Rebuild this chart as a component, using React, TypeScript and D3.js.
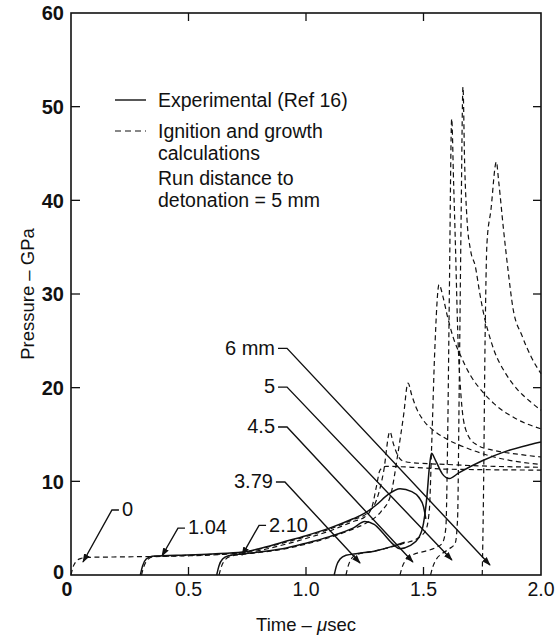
import React from "react";
import * as d3 from "d3";

const W = 556;
const H = 638;

// axes
const xTicks = [0, 0.5, 1.0, 1.5, 2.0];
const xTickLabels = ["0", "0.5", "1.0", "1.5", "2.0"];
const yTicks = [0, 10, 20, 30, 40, 50, 60];
const yTickLabels = ["0", "10", "20", "30", "40", "50", "60"];

// experimental (solid) records [time µs, pressure GPa]
const exp104: [number, number][] = [[0.295,0],[0.305,1.0],[0.32,1.7],[0.345,2.0],[0.45,2.1],[0.6,2.25],[0.73,2.45],[0.8,2.8],[0.9,3.5],[1.0,4.2],[1.1,5.0],[1.2,6.0],[1.25,6.6],[1.3,7.5],[1.35,8.6],[1.4,9.2],[1.45,8.9],[1.48,8.3],[1.5,7.3],[1.51,6.0]];
const exp210: [number, number][] = [[0.62,0],[0.63,1.0],[0.645,1.7],[0.67,2.05],[0.73,2.25],[0.8,2.45],[0.9,2.8],[1.0,3.4],[1.1,4.1],[1.2,5.0],[1.25,5.7],[1.29,5.4],[1.33,4.4],[1.37,3.3],[1.4,2.8],[1.44,3.1],[1.48,4.0],[1.5,5.5],[1.515,8.5],[1.525,11.5],[1.534,13.0],[1.55,12.3],[1.58,10.8],[1.61,10.3],[1.65,10.9],[1.75,12.2],[1.85,13.2],[1.95,13.9],[2.0,14.2]];
const exp379: [number, number][] = [[1.12,0],[1.13,1.0],[1.145,1.7],[1.17,2.1],[1.22,2.3],[1.3,2.6],[1.36,3.0],[1.42,3.5]];

// ignition and growth calculations (dashed)
const calc0: [number, number][] = [[0,0],[0.008,0.8],[0.02,1.4],[0.04,1.75],[0.07,1.88],[0.2,1.93],[0.35,1.98],[0.5,2.05],[0.65,2.2],[0.73,2.35],[0.8,2.6],[0.9,3.2],[1.0,3.9],[1.1,4.7],[1.2,5.7],[1.25,6.2],[1.28,7.2],[1.3,9.5],[1.315,11.2],[1.34,11.6],[1.45,11.5],[1.6,11.3],[2.0,11.2]];
const calc104: [number, number][] = [[0.3,0],[0.31,0.9],[0.325,1.6],[0.35,1.95],[0.45,2.05],[0.6,2.2],[0.73,2.4],[0.8,2.75],[0.9,3.4],[1.0,4.1],[1.1,4.9],[1.2,5.9],[1.26,6.6],[1.3,8],[1.33,11],[1.357,15.3],[1.372,14],[1.39,12.8],[1.41,12.2],[1.45,12.0],[1.6,11.8],[1.8,11.6],[2.0,11.5]];
const calc210: [number, number][] = [[0.63,0],[0.64,0.9],[0.655,1.6],[0.68,2.0],[0.73,2.2],[0.8,2.4],[0.9,2.75],[1.0,3.3],[1.1,4.0],[1.2,4.9],[1.26,5.6],[1.32,6.8],[1.36,8.5],[1.39,12.8],[1.415,17],[1.434,20.5],[1.45,19.2],[1.47,17.8],[1.5,16.5],[1.55,15.3],[1.6,14.5],[1.7,13.4],[1.8,12.6],[1.9,12.1],[2.0,11.8]];
const calc379: [number, number][] = [[1.17,0],[1.18,1.0],[1.195,1.8],[1.22,2.2],[1.28,2.5],[1.35,2.9],[1.42,3.4],[1.48,4.0],[1.51,4.8],[1.525,7],[1.535,14],[1.548,24],[1.566,31],[1.583,29.7],[1.6,27.8],[1.626,25.4],[1.66,23.3],[1.7,21.3],[1.75,19.6],[1.8,18.3],[1.9,16.6],[2.0,15.6]];
const calc45: [number, number][] = [[1.4,0],[1.41,0.9],[1.425,1.6],[1.45,2.1],[1.5,2.5],[1.55,2.9],[1.58,3.4],[1.595,5],[1.603,15],[1.61,30],[1.62,48.7],[1.628,42],[1.635,36],[1.647,25],[1.66,19],[1.68,15.5],[1.72,14.0],[1.8,13.3],[1.9,12.9],[2.0,12.6]];
const calc5: [number, number][] = [[1.53,0],[1.54,0.9],[1.555,1.7],[1.58,2.3],[1.61,2.8],[1.635,3.4],[1.645,6],[1.652,20],[1.66,38],[1.668,52.1],[1.675,44],[1.685,38],[1.7,34.7],[1.72,33.0],[1.74,30],[1.762,27.2],[1.775,26],[1.8,24],[1.85,21.5],[1.9,19.8],[1.95,18.6],[2.0,17.6]];
const calc6: [number, number][] = [[1.75,0],[1.755,8],[1.762,25],[1.77,35.4],[1.787,39],[1.81,44.1],[1.82,42],[1.84,37],[1.86,32.5],[1.88,28.6],[1.92,25.5],[1.96,23.2],[2.0,21.5]];

const expSeries = [exp104, exp210, exp379];
const calcSeries = [calc0, calc104, calc210, calc379, calc45, calc5, calc6];

// gauge annotations: label, leader start (t,P), arrow tip (t,P), side of text
const gaugeLabels = ["0", "1.04", "2.10", "3.79", "4.5", "5", "6 mm"];
const labelT = [0.204, 0.485, 0.83, 0.872, 0.881, 0.881, 0.881];
const labelP = [6.94, 5.0, 5.3, 9.93, 15.8, 20.06, 24.2];
const tipT = [0.051, 0.387, 0.728, 1.23, 1.455, 1.621, 1.783];
const tipP = [1.39, 2.03, 2.13, 1.28, 1.39, 1.6, 1.07];
const textRight = [true, true, true, false, false, false, false];

const legendLabels = ["Experimental (Ref 16)", "Ignition and growth", "calculations", "Run distance to", "detonation = 5 mm"];

const FONT = "'Liberation Sans', Arial, Helvetica, sans-serif";

export default function App() {
  const x = d3.scaleLinear().domain([0, 2]).range([71, 541]);
  const y = d3.scaleLinear().domain([0, 60]).range([575, 13]);
  const line = d3
    .line<[number, number]>()
    .x((d) => x(d[0]))
    .y((d) => y(d[1]))
    .curve(d3.curveMonotoneX);

  const ink = "#111";

  return (
    <svg
      width={W}
      height={H}
      viewBox={`0 0 ${W} ${H}`}
      style={{ position: "absolute", left: 0, top: 0, background: "#fff" }}
      fontFamily={FONT}
    >
      <defs>
        <marker id="arr" viewBox="0 0 10 10" refX="9" refY="5" markerWidth="9" markerHeight="9" orient="auto" markerUnits="userSpaceOnUse">
          <path d="M0,1.5 L10,5 L0,8.5 Z" fill={ink} />
        </marker>
      </defs>
      <rect x={0} y={0} width={W} height={H} fill="#fff" />

      {/* frame */}
      <rect x={x(0)} y={y(60)} width={x(2) - x(0)} height={y(0) - y(60)} fill="none" stroke={ink} strokeWidth={1.6} />

      {/* ticks */}
      {yTicks.slice(1, -1).map((v) => (
        <g key={"yt" + v}>
          <line x1={x(0)} x2={x(0) + 9} y1={y(v)} y2={y(v)} stroke={ink} strokeWidth={1.3} />
          <line x1={x(2)} x2={x(2) - 8} y1={y(v)} y2={y(v)} stroke={ink} strokeWidth={1.3} />
        </g>
      ))}
      {xTicks.slice(1, -1).map((v) => (
        <g key={"xt" + v}>
          <line x1={x(v)} x2={x(v)} y1={y(0)} y2={y(0) - 8} stroke={ink} strokeWidth={1.3} />
          <line x1={x(v)} x2={x(v)} y1={y(60)} y2={y(60) + 8} stroke={ink} strokeWidth={1.3} />
        </g>
      ))}

      {/* tick labels */}
      {yTicks.map((v, i) => (
        <text key={"yl" + v} x={x(0) - 7} y={y(v) + (v === 0 ? -3 : 0)} dy="0.36em" textAnchor="end" fontSize={20} fontWeight="bold" fill={ink}>
          {yTickLabels[i]}
        </text>
      ))}
      {xTicks.map((v, i) => (
        <text key={"xl" + v} x={x(v) + (v === 0 ? -4 : 0)} y={y(0) + 21} textAnchor="middle" fontSize={19.5} fontWeight={v === 0 ? "bold" : "normal"} fill={ink}>
          {xTickLabels[i]}
        </text>
      ))}

      {/* axis titles */}
      <text x={x(1)} y={631} textAnchor="middle" fontSize={18.5} fill={ink}>
        Time – <tspan fontStyle="italic">μ</tspan>sec
      </text>
      <text transform={`translate(34,${y(30)}) rotate(-90)`} textAnchor="middle" fontSize={18.5} fill={ink}>
        Pressure – GPa
      </text>

      {/* legend */}
      <line x1={115} x2={146} y1={100} y2={100} stroke={ink} strokeWidth={1.4} />
      <line x1={115} x2={146} y1={131} y2={131} stroke={ink} strokeWidth={1.2} strokeDasharray="6,4" />
      {legendLabels.map((s, i) => (
        <text key={s} x={158} y={[100, 131, 153, 178, 200][i]} dy="0.36em" fontSize={19.5} fill={ink}>
          {s}
        </text>
      ))}

      {/* calculated curves */}
      {calcSeries.map((s, i) => (
        <path key={"c" + i} d={line(s) || ""} fill="none" stroke={ink} strokeWidth={1.2} strokeDasharray="5,3.5" />
      ))}
      {/* experimental curves */}
      {expSeries.map((s, i) => (
        <path key={"e" + i} d={line(s) || ""} fill="none" stroke={ink} strokeWidth={1.5} />
      ))}

      {/* gauge labels with leaders */}
      {gaugeLabels.map((lab, i) => {
        const ax = x(labelT[i]);
        const ay = y(labelP[i]);
        const right = textRight[i];
        const ex = right ? ax - 7 : ax + 9;
        const tx = x(tipT[i]);
        const ty = y(tipP[i]);
        return (
          <g key={"g" + i}>
            <polyline points={`${ax},${ay} ${ex},${ay} ${tx},${ty}`} fill="none" stroke={ink} strokeWidth={1.4} markerEnd="url(#arr)" />
            <text x={right ? ax + 3 : ax - 3} y={ay - 1} dy="0.36em" textAnchor={right ? "start" : "end"} fontSize={20} fill={ink}>
              {lab}
            </text>
          </g>
        );
      })}
    </svg>
  );
}
